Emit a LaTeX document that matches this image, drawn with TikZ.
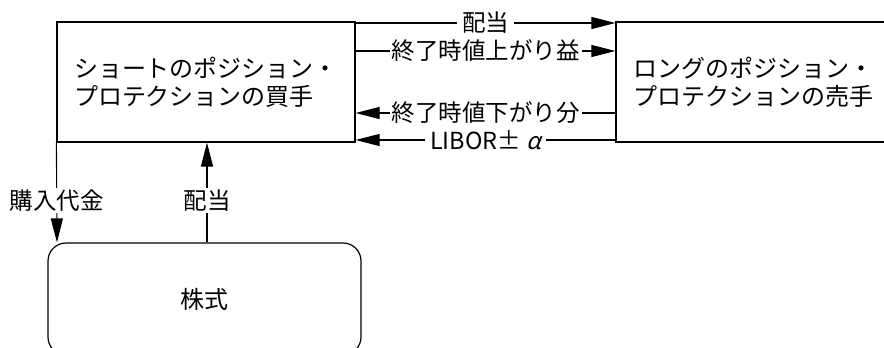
\documentclass[tikz,border=0pt]{standalone}
\usepackage{fontspec}
\setmainfont{Noto Sans CJK JP}
\newfontfamily\slantfont[FakeSlant=0.25]{Noto Sans CJK JP}
\usetikzlibrary{arrows.meta}
\begin{document}
\begin{tikzpicture}[x=1pt,y=-1pt,
  box/.style={draw, line width=1.2pt, inner sep=0pt, font=\fontsize{24}{28}\selectfont, align=left},
  flow/.style={line width=1.1pt, -{Triangle[length=24pt,width=12pt]}},
  lbl/.style={fill=white, inner xsep=5pt, inner ysep=2pt, font=\fontsize{23.5}{27}\selectfont}]
\useasboundingbox (0,0) rectangle (884,348);
\clip (0,0) rectangle (884,348);
\node[box, minimum width=298pt, minimum height=120pt] (buyer) at (206,82) {ショートのポジション・\\プロテクションの買手};
\node[box, minimum width=274pt, minimum height=120pt] (seller) at (753,82) {ロングのポジション・\\プロテクションの売手};
\node[box, rounded corners=18pt, minimum width=313pt, minimum height=112pt] (stock) at (204.5,299) {株式};
\coordinate (y1) at (0,23);
\coordinate (y2) at (0,51);
\coordinate (y3) at (0,113);
\coordinate (y4) at (0,140);
\coordinate (xa) at (57,0);
\coordinate (xb) at (207,0);
\draw[flow] (buyer.east |- y1) -- node[lbl]{配当} (seller.west |- y1);
\draw[flow] (buyer.east |- y2) -- node[lbl, inner xsep=2pt]{終了時値上がり益} (seller.west |- y2);
\draw[flow] (seller.west |- y3) -- node[lbl, inner xsep=2pt]{終了時値下がり分} (buyer.east |- y3);
\draw[flow] (seller.west |- y4) -- node[lbl]{LIBOR± {\slantfont α}} (buyer.east |- y4);
\draw[flow] (buyer.south west) -- node[lbl, pos=0.58]{購入代金} (xa |- stock.north);
\draw[flow] (xb |- stock.north) -- node[lbl, pos=0.42]{配当} (xb |- buyer.south);
\end{tikzpicture}
\end{document}
